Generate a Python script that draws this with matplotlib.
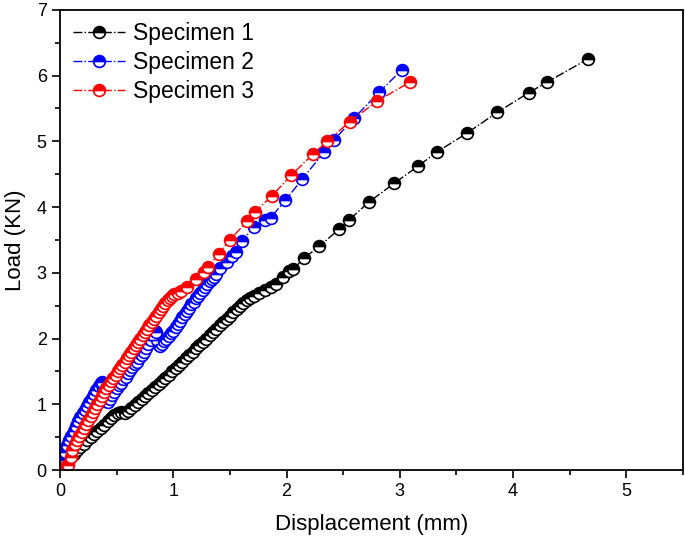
import matplotlib.pyplot as plt
from matplotlib.ticker import MultipleLocator

plt.rcParams['font.family'] = ['Liberation Sans', 'DejaVu Sans']

# Specimen 1 (black)
x1 = [0.03, 0.06, 0.09, 0.12, 0.15, 0.18, 0.21, 0.24, 0.27, 0.30, 0.33, 0.36,
      0.39, 0.42, 0.45, 0.48, 0.51, 0.54, 0.57, 0.60, 0.63, 0.66, 0.69, 0.72,
      0.75, 0.78, 0.81, 0.84, 0.87, 0.90, 0.93, 0.96, 0.99, 1.02, 1.05, 1.08,
      1.11, 1.14, 1.17, 1.20, 1.23, 1.26, 1.29, 1.32, 1.35, 1.38, 1.41, 1.44,
      1.47, 1.50, 1.53, 1.56, 1.59, 1.62, 1.65, 1.68, 1.71,
      1.76, 1.81, 1.86, 1.91, 1.97, 2.02, 2.06, 2.15, 2.29, 2.46, 2.55, 2.73,
      2.95, 3.16, 3.33, 3.59, 3.86, 4.14, 4.30, 4.66]
y1 = [0.05, 0.12, 0.18, 0.24, 0.30, 0.35, 0.40, 0.45, 0.50, 0.55, 0.60, 0.64,
      0.69, 0.74, 0.79, 0.83, 0.87, 0.88, 0.87, 0.90, 0.94, 0.99, 1.04, 1.08,
      1.13, 1.17, 1.22, 1.26, 1.31, 1.36, 1.40, 1.45, 1.50, 1.55, 1.60, 1.65,
      1.70, 1.75, 1.80, 1.85, 1.90, 1.95, 2.00, 2.05, 2.10, 2.15, 2.20, 2.25,
      2.30, 2.35, 2.40, 2.45, 2.50, 2.54, 2.58, 2.62, 2.65,
      2.70, 2.74, 2.78, 2.83, 2.94, 3.02, 3.05, 3.22, 3.40, 3.66, 3.80, 4.08,
      4.36, 4.62, 4.84, 5.12, 5.44, 5.74, 5.90, 6.25]

# Specimen 2 (blue)
x2 = [0.00, 0.02, 0.04, 0.06, 0.08, 0.10, 0.12, 0.14, 0.16, 0.18, 0.20, 0.22,
      0.24, 0.26, 0.28, 0.30, 0.32, 0.34, 0.36, 0.37, 0.38, 0.39, 0.40, 0.42,
      0.44, 0.46, 0.48, 0.50, 0.52, 0.54, 0.56, 0.58, 0.60, 0.62, 0.64, 0.66,
      0.68, 0.70, 0.72, 0.74, 0.76, 0.78, 0.80, 0.82, 0.84, 0.85, 0.86, 0.87,
      0.88, 0.90, 0.92, 0.94, 0.96, 0.98, 1.00, 1.02, 1.04, 1.06, 1.08, 1.10,
      1.12, 1.14, 1.16, 1.18, 1.20, 1.22, 1.24, 1.26, 1.28, 1.30, 1.32, 1.34,
      1.36, 1.38, 1.41, 1.47, 1.52, 1.55, 1.61, 1.71, 1.81, 1.86, 1.99, 2.14,
      2.33, 2.42, 2.60, 2.82, 3.02]
y2 = [0.02, 0.15, 0.28, 0.38, 0.45, 0.52, 0.60, 0.67, 0.74, 0.80, 0.86, 0.92,
      0.98, 1.04, 1.10, 1.16, 1.22, 1.28, 1.33, 1.34, 1.25, 1.12, 1.05, 1.03,
      1.08, 1.14, 1.19, 1.24, 1.29, 1.33, 1.38, 1.42, 1.47, 1.52, 1.56, 1.61,
      1.65, 1.70, 1.75, 1.80, 1.85, 1.92, 1.98, 2.05, 2.12, 2.10, 1.98, 1.90,
      1.88, 1.92, 1.96, 2.00, 2.04, 2.08, 2.12, 2.17, 2.22, 2.27, 2.32, 2.37,
      2.42, 2.47, 2.52, 2.56, 2.61, 2.65, 2.70, 2.74, 2.79, 2.83, 2.87, 2.90,
      2.94, 2.98, 3.07, 3.16, 3.26, 3.32, 3.49, 3.69, 3.81, 3.84, 4.10, 4.43,
      4.83, 5.02, 5.36, 5.75, 6.09]

# Specimen 3 (red)
x3 = [0.02, 0.07, 0.10, 0.11, 0.13, 0.15, 0.17, 0.19, 0.21, 0.23, 0.25, 0.27,
      0.29, 0.31, 0.33, 0.35, 0.37, 0.39, 0.41, 0.43, 0.45, 0.47, 0.49, 0.51,
      0.53, 0.55, 0.57, 0.59, 0.61, 0.63, 0.65, 0.67, 0.69, 0.71, 0.73, 0.75,
      0.77, 0.79, 0.81, 0.83, 0.85, 0.87, 0.89, 0.91, 0.93, 0.95, 0.97, 0.99,
      1.01, 1.04, 1.07, 1.12, 1.20, 1.27, 1.31, 1.40, 1.50, 1.65, 1.72, 1.87,
      2.04, 2.23, 2.36, 2.56, 2.80, 3.09]
y3 = [0.03, 0.08, 0.20, 0.30, 0.40, 0.46, 0.52, 0.58, 0.64, 0.70, 0.76, 0.82,
      0.88, 0.94, 1.00, 1.06, 1.12, 1.18, 1.24, 1.30, 1.35, 1.40, 1.45, 1.50,
      1.55, 1.60, 1.65, 1.70, 1.75, 1.80, 1.85, 1.90, 1.95, 2.00, 2.05, 2.10,
      2.15, 2.20, 2.25, 2.30, 2.35, 2.40, 2.45, 2.50, 2.54, 2.58, 2.62, 2.65,
      2.68, 2.70, 2.72, 2.79, 2.90, 3.01, 3.09, 3.29, 3.50, 3.78, 3.92, 4.17,
      4.48, 4.80, 5.00, 5.30, 5.61, 5.90]

labels = ['Specimen 1', 'Specimen 2', 'Specimen 3']
colors = ['black', 'blue', 'red']

fig = plt.figure(figsize=(6.85, 5.44), dpi=100)
ax = fig.add_axes([0.0876, 0.136, 0.9094, 0.846])

for xs, ys, lab, c in zip([x1, x2, x3], [y1, y2, y3], labels, colors):
    ax.plot(xs, ys, linestyle='-.', linewidth=1.0, color=c,
            marker='o', markersize=8.5, fillstyle='top',
            markerfacecolor=c, markerfacecoloralt='white',
            markeredgecolor=c, markeredgewidth=1.2, label=lab)

ax.set_xlim(0, 5.5)
ax.set_ylim(0, 7)
ax.xaxis.set_major_locator(MultipleLocator(1))
ax.xaxis.set_minor_locator(MultipleLocator(0.5))
ax.yaxis.set_major_locator(MultipleLocator(1))
ax.yaxis.set_minor_locator(MultipleLocator(0.5))
ax.tick_params(which='major', direction='out', length=6, width=1.2, labelsize=13)
ax.tick_params(which='minor', direction='out', length=3.5, width=1.2)
for s in ax.spines.values():
    s.set_linewidth(1.3)

ax.set_xlabel('Displacement (mm)', fontsize=16, labelpad=10)
ax.set_ylabel('Load (KN)', fontsize=16, labelpad=8)

ax.legend(loc='upper left', frameon=False, fontsize=16.5, handlelength=2.3,
          borderaxespad=0.25, labelspacing=0.25, handletextpad=0.35,
          borderpad=0.3)

fig.savefig('out.png', dpi=100)
